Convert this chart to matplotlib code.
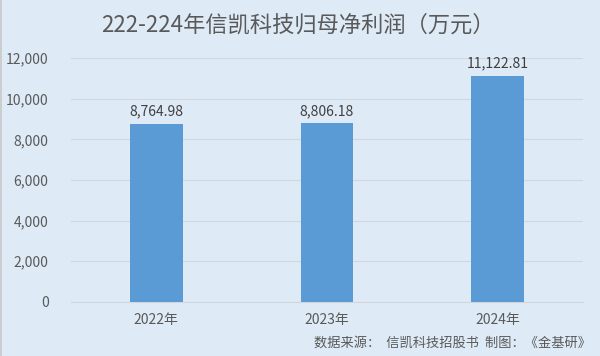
import matplotlib.pyplot as plt
from matplotlib.ticker import FuncFormatter

plt.rcParams['font.family'] = ['Noto Sans CJK SC', 'DejaVu Sans']

years = ['2022年', '2023年', '2024年']
profit = [8764.98, 8806.18, 11122.81]
yticks = [0, 2000, 4000, 6000, 8000, 10000, 12000]

bg = '#DEEAF6'
fig = plt.figure(figsize=(6, 3.56), dpi=100, facecolor=bg)
ax = fig.add_axes([0.118, 0.152, 0.854, 0.685], facecolor=bg)

x = range(len(years))
bars = ax.bar(x, profit, width=0.31, color='#5B9BD5', zorder=3)
for xi, v in zip(x, profit):
    ax.text(xi, v + 250, f'{v:,.2f}', ha='center', va='bottom',
            fontsize=10, color='#404040')

ax.set_xlim(-0.5, 2.5)
ax.set_ylim(0, 12000)
ax.set_yticks(yticks)
ax.yaxis.set_major_formatter(FuncFormatter(lambda v, p: f'{int(v):,}'))
ax.set_xticks(list(x))
ax.set_xticklabels(years)
ax.tick_params(axis='both', length=0, labelsize=10, labelcolor='#595959')
ax.tick_params(axis='y', pad=16)
ax.tick_params(axis='x', pad=8)
ax.grid(axis='y', color='#D0D7DF', linewidth=0.8, zorder=0)
for s in ['top', 'right', 'left']:
    ax.spines[s].set_visible(False)
ax.spines['bottom'].set_color('#D0D7DF')

# thin grey border on the left edge
fig.add_artist(plt.Line2D([0.001, 0.001], [0, 1], color='#C8C8C8', linewidth=1.2))

fig.text(0.497, 0.93, '222-224年信凯科技归母净利润（万元）', ha='center', va='center',
         fontsize=16, color='#595959')
fig.text(0.985, 0.035, '数据来源：  信凯科技招股书  制图：《金基研》', ha='right', va='center',
         fontsize=9.5, color='#595959')

fig.savefig('out.png', dpi=100, facecolor=bg)
